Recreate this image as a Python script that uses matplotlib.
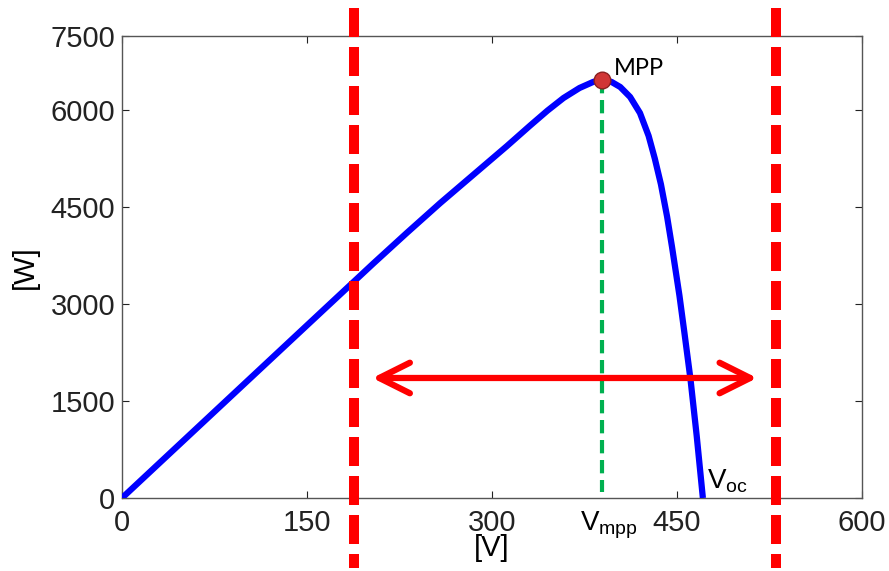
import matplotlib
matplotlib.use('Agg')
import matplotlib.pyplot as plt
from matplotlib.patches import FancyArrowPatch

# P-V curve
voltage = [0, 50, 100, 150, 177, 204, 231, 258, 285, 312, 331, 345, 358,
           371, 382, 389, 397, 404, 412, 420, 427, 432, 437, 442, 446, 452,
           456, 461, 466, 471]
power = [0, 890, 1780, 2670, 3150, 3630, 4100, 4560, 5000, 5440, 5760, 5990,
         6185, 6340, 6433, 6464, 6433, 6355, 6201, 5953, 5600, 5250, 4850,
         4350, 3880, 3130, 2560, 1830, 960, 0]

v_mpp, p_mpp = 389, 6464
v_oc = 471
window = [188, 530]          # red dashed limits
arrow_span = [203, 515]
arrow_p = 1856

y_ticks = [0, 1500, 3000, 4500, 6000]
y_top = 7144
x_ticks = [0, 150, 300, 450, 600]

plt.rcParams['font.family'] = ['Liberation Sans', 'DejaVu Sans']
plt.rcParams['mathtext.fontset'] = 'custom'
plt.rcParams['mathtext.rm'] = 'Lato'
plt.rcParams['mathtext.it'] = 'Lato'

fig = plt.figure(figsize=(8.89, 5.71), dpi=100)
ax = fig.add_axes([0.1372, 0.1278, 0.8324, 0.8092])

ax.plot(voltage, power, color='#0000ff', lw=4.5, solid_capstyle='butt',
        solid_joinstyle='round', zorder=3)

# green dashed line at Vmpp
ax.plot([v_mpp, v_mpp], [p_mpp, 90], color='#00b050', lw=3,
        dashes=(3.2, 1.6), zorder=2)
ax.plot(v_mpp, p_mpp, 'o', ms=12, color='#d03535', mec='#8b1f1f', mew=1, zorder=5)

# red dashed window
for v in window:
    ax.plot([v, v], [7577, -1082], color='#ff0000', lw=7.2,
            dashes=(2.9, 1.0), clip_on=False, zorder=4)

arrow = FancyArrowPatch((arrow_span[0], arrow_p), (arrow_span[1], arrow_p),
                        arrowstyle='<->,head_length=22,head_width=11',
                        mutation_scale=1, shrinkA=0, shrinkB=0,
                        color='#ff0000', lw=4.5,
                        capstyle='round', joinstyle='round', zorder=4)
ax.add_patch(arrow)

ax.text(399, 6541, 'MPP', family='Lato', fontsize=17, va='baseline', ha='left')
ax.text(v_oc + 3, 155, r'$\mathregular{V_{oc}}$', fontsize=20,
        va='baseline', ha='left')
ax.text(371, -495, r'$\mathregular{V_{mpp}}$', fontsize=20,
        va='baseline', ha='left', clip_on=False)

ax.set_xlim(0, 600)
ax.set_ylim(0, y_top)
ax.set_xticks(x_ticks)
ax.set_yticks(y_ticks + [y_top])
ax.set_yticklabels([str(t) for t in y_ticks] + ['7500'])
ax.tick_params(direction='in', length=5, width=0.8, labelsize=21,
               top=True, right=True, pad=5, colors='#222222')
ax.tick_params(axis='x', pad=8)
for s in ax.spines.values():
    s.set_color('#555555')
    s.set_linewidth(1.0)

ax.set_xlabel('[V]', fontsize=21, labelpad=-2)
ax.set_ylabel('[W]', fontsize=21, labelpad=8)

fig.savefig('out.png', dpi=100)
